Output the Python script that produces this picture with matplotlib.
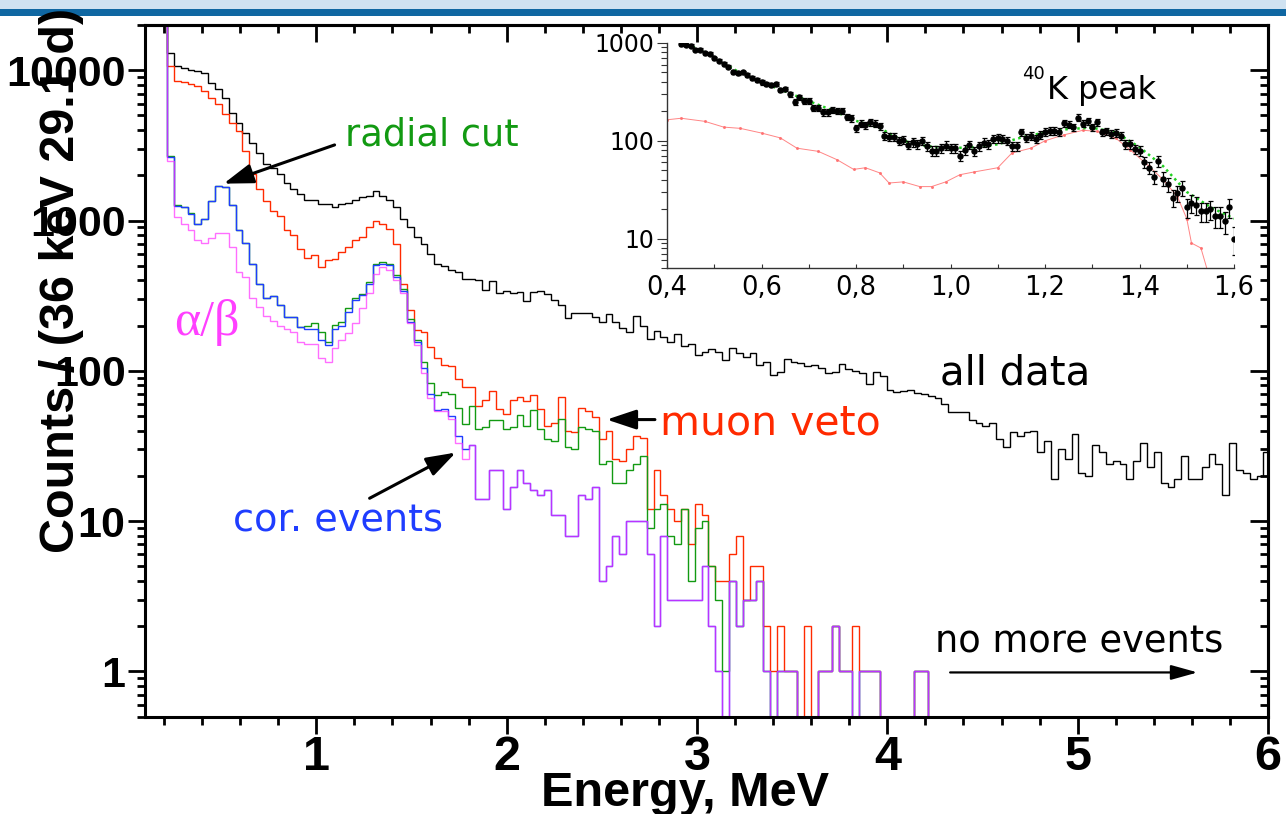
import numpy as np
import matplotlib
matplotlib.use("Agg")
import matplotlib.pyplot as plt
from matplotlib.patches import Rectangle
from matplotlib.ticker import (FixedLocator, MultipleLocator, LogLocator,
                               FuncFormatter, NullFormatter)

plt.rcParams['font.family'] = ['Liberation Sans', 'DejaVu Sans']
plt.rcParams['font.weight'] = 'bold'

W, H, DPI = 1286, 814, 100

# ---- spectra: 36 keV bins starting at 0.18 MeV ----
BIN_START = 0.18
BIN_WIDTH = 0.036

all_data = [
    40000, 13000, 10700, 10400, 10100, 9850, 9560, 8240, 7560, 6560,
    5210, 4480, 3850, 3300, 2830, 2370, 2230, 2040, 1790, 1620,
    1500, 1360, 1360, 1280, 1280, 1225, 1290, 1300, 1360, 1430,
    1465, 1565, 1465, 1380, 1225, 1026, 903, 776, 700, 600,
    511, 496, 467, 455, 411, 411, 401, 344, 396, 330,
    341, 330, 335, 292, 335, 339, 327, 295, 273, 225,
    241, 241, 243, 229, 210, 238, 210, 194, 180, 232,
    200, 163, 185, 169, 155, 176, 146, 152, 128, 134,
    139, 133, 118, 141, 131, 124, 132, 110, 114, 94,
    99, 119, 114, 112, 107, 110, 104, 97, 98, 111,
    103, 100, 97, 82, 99, 92, 75, 72, 73, 75,
    71, 70, 68, 66, 60, 53, 53, 53, 47, 45,
    43, 45, 35, 31, 39, 37, 39, 40, 29, 34,
    19, 30, 26, 38, 21, 20, 32, 29, 24, 25,
    24, 19, 25, 33, 23, 29, 18, 17, 19, 27,
    19, 19, 23, 28, 24, 15, 33, 22, 21, 19,
    20, 29,
]

muon_veto = [
    40000, 10630, 8450, 8370, 8110, 7830, 7330, 6560, 5930, 5090,
    4480, 3940, 2910, 2040, 1620, 1357, 1164, 1078, 859, 796,
    649, 566, 587, 491, 543, 557, 617, 666, 744, 783,
    903, 1000, 942, 881, 700, 380, 253, 187, 180, 145,
    121, 110, 107, 88, 78, 78, 58, 64, 74, 56,
    52, 64, 67, 63, 69, 56, 43, 45, 67, 40,
    39, 57, 54, 49, 35, 40, 26, 25, 30, 37,
    36, 12, 22, 15, 12, 10, 12, 7, 13, 11,
    5, 4, 4, 6, 8, 3, 5, 5, 2, 1,
    2, 1, 1, 0, 2, 0, 1, 1, 2, 1,
    1, 2, 1, 1, 1, 0, 0, 0, 0, 0,
    1, 1, 0,
]

radial_cut = [
    40000, 2694, 1276, 1225, 1119, 951, 1026, 1357, 1706, 1663,
    1276, 859, 708, 517, 381, 303, 314, 273, 229, 227,
    197, 200, 207, 182, 155, 202, 212, 260, 303, 327,
    391, 517, 530, 515, 432, 350, 220, 160, 115, 83,
    69, 72, 70, 57, 44, 58, 41, 42, 47, 47,
    41, 42, 51, 43, 55, 41, 35, 34, 48, 31,
    30, 42, 41, 40, 24, 25, 18, 18, 22, 24,
    27, 9, 12, 13, 8, 7, 12, 4, 9, 10,
    5, 3, 1, 4, 2, 3, 3, 4, 1, 0,
    1, 1, 1, 0, 0, 0, 1, 1, 2, 1,
    1, 0, 1, 1, 1, 0, 0, 0, 0, 0,
    1, 1, 0,
]

cor_events = [
    40000, 2650, 1257, 1225, 1108, 951, 1026, 1357, 1706, 1663,
    1276, 859, 708, 517, 381, 303, 314, 273, 229, 227,
    197, 189, 190, 160, 149, 190, 200, 247, 298, 320,
    381, 505, 517, 505, 421, 340, 212, 155, 104, 70,
    55, 56, 50, 37, 30, 32, 14, 14, 22, 22,
    12, 17, 22, 18, 16, 15, 16, 11, 11, 8,
    8, 15, 14, 17, 4, 5, 8, 6, 10, 10,
    10, 6, 2, 8, 3, 3, 3, 3, 3, 5,
    2, 1, 0, 4, 2, 3, 3, 4, 1, 0,
    1, 1, 1, 0, 0, 0, 1, 1, 2, 1,
    1, 0, 1, 1, 1, 0, 0, 0, 0, 0,
    1, 1, 0,
]

alpha_beta = [
    40000, 2496, 1052, 942, 859, 744, 711, 768, 824, 824,
    666, 455, 421, 303, 267, 231, 215, 199, 189, 182,
    156, 152, 152, 121, 115, 141, 160, 178, 207, 260,
    330, 443, 491, 467, 404, 330, 209, 149, 97, 66,
    54, 54, 48, 33, 26, 32, 14, 14, 22, 22,
    12, 17, 22, 18, 16, 15, 16, 11, 11, 8,
    8, 15, 14, 17, 4, 5, 8, 6, 10, 10,
    10, 6, 2, 8, 3, 3, 3, 3, 3, 5,
    2, 1, 0, 4, 2, 3, 3, 4, 1, 0,
    1, 1, 1, 0, 0, 0, 1, 1, 2, 1,
    1, 0, 1, 1, 1, 0, 0, 0, 0, 0,
    1, 1, 0,
]

x_major = [1, 2, 3, 4, 5, 6]

# ---- 40K peak region (inset), 10 keV points from 0.43 to 1.60 MeV ----
k40_counts = [
    970, 955, 940, 855, 850, 785, 775,
    700, 660, 610, 575, 510, 490, 500, 470, 435, 420,
    395, 380, 370, 380, 330, 340, 300, 250, 280, 255,
    255, 215, 218, 195, 195, 205, 200, 200, 175, 170,
    135, 150, 145, 155, 150, 140, 112, 110, 110, 100,
    102, 91, 97, 93, 100, 88, 79, 79, 84, 89,
    84, 84, 70, 81, 91, 78, 88, 96, 93, 104,
    106, 104, 100, 88, 88, 122, 108, 112, 105, 115,
    124, 126, 126, 124, 152, 146, 138, 173, 150, 158,
    138, 155, 122, 125, 118, 120, 112, 92, 92, 82,
    79, 60, 53, 43, 62, 41, 36, 26, 29, 33,
    21, 23, 22, 19, 19, 20, 17, 17, 15, 21,
    10,
]
k40_e_first, k40_e_last = 0.43, 1.60

total_fit_e = [0.43, 0.45, 0.50, 0.55, 0.60, 0.65, 0.70, 0.75, 0.80, 0.85,
               0.90, 0.95, 1.00, 1.05, 1.10, 1.15, 1.20, 1.25, 1.30, 1.35,
               1.40, 1.45, 1.50, 1.55, 1.60]
total_fit = [1000, 940, 720, 510, 400, 320, 255, 205, 160, 135,
             100, 88, 84, 86, 92, 108, 122, 132, 136, 122,
             86, 55, 30, 21, 16]

k40_model_e = [0.40, 0.43, 0.48, 0.52, 0.555, 0.60, 0.64, 0.675, 0.72, 0.76,
               0.795, 0.82, 0.85, 0.87, 0.90, 0.935, 0.96, 0.99, 1.02, 1.05,
               1.10, 1.13, 1.17, 1.20, 1.24, 1.28, 1.31, 1.35, 1.38, 1.42,
               1.45, 1.48, 1.50, 1.51, 1.53, 1.545]
k40_model = [164, 170, 158, 138, 134, 120, 107, 84, 78, 64,
             51, 53, 47, 37, 38, 34, 34, 38, 45, 48,
             53, 75, 84, 100, 115, 128, 125, 106, 81, 55,
             40, 27, 16, 9, 8, 4.5]


def edges_for(vals):
    return BIN_START + BIN_WIDTH * np.arange(len(vals) + 1)


def drawable(vals):
    v = np.asarray(vals, dtype=float)
    return np.where(v > 0, v, 1e-3)


fig = plt.figure(figsize=(W / DPI, H / DPI), dpi=DPI)

# slide header band
fig.add_artist(Rectangle((0, 1 - 9 / H), 1, 9 / H, transform=fig.transFigure,
                         facecolor='#cfe2f1', edgecolor='none', zorder=0))
fig.add_artist(Rectangle((0, 1 - 16 / H), 1, 7 / H, transform=fig.transFigure,
                         facecolor='#0f67a2', edgecolor='none', zorder=0))

ax = fig.add_axes([145 / W, 1 - 716.7 / H, (1268 - 145) / W, (716.7 - 25) / H])
ax.set_yscale('log')

series = [
    (all_data, '#000000', 1.0),
    (muon_veto, '#ff2a00', 1.0),
    (radial_cut, '#129a12', 1.0),
    (cor_events, '#1f3dff', 1.0),
    (alpha_beta, '#ff30ff', 0.7),
]
for vals, col, alp in series:
    ax.stairs(drawable(vals), edges_for(vals), baseline=None,
              color=col, lw=1.0, alpha=alp)

ax.set_xlim(0.1, 6.0)
ax.set_ylim(0.5, 2.0e4)

ax.xaxis.set_major_locator(FixedLocator(x_major))
ax.xaxis.set_minor_locator(MultipleLocator(0.2))
ax.xaxis.set_major_formatter(FuncFormatter(lambda v, p: f'{v:.0f}'))
ax.yaxis.set_major_locator(LogLocator(base=10, numticks=10))
ax.yaxis.set_minor_locator(LogLocator(base=10, subs=np.arange(2, 10), numticks=60))
ax.yaxis.set_major_formatter(FuncFormatter(lambda v, p: f'{v:.0f}'))
ax.yaxis.set_minor_formatter(NullFormatter())
ax.tick_params(which='major', direction='out', length=12, width=2,
               pad=1, top=False, right=False)
ax.tick_params(which='minor', direction='out', length=6, width=2,
               top=False, right=False)
ax.tick_params(axis='x', labelsize=35)
ax.tick_params(axis='y', labelsize=31, pad=2)
for sp in ax.spines.values():
    sp.set_linewidth(2.2)

top = ax.secondary_xaxis('top')
top.xaxis.set_major_locator(FixedLocator(x_major))
top.xaxis.set_minor_locator(MultipleLocator(0.2))
top.tick_params(which='major', direction='in', length=12, width=2, labeltop=False)
top.tick_params(which='minor', direction='in', length=6, width=2)
top.spines['top'].set_linewidth(2.2)

right = ax.secondary_yaxis('right')
right.yaxis.set_major_locator(LogLocator(base=10, numticks=10))
right.yaxis.set_minor_locator(LogLocator(base=10, subs=np.arange(2, 10), numticks=60))
right.yaxis.set_minor_formatter(NullFormatter())
right.tick_params(which='major', direction='in', length=13, width=2, labelright=False)
right.tick_params(which='minor', direction='in', length=6, width=2)
right.spines['right'].set_linewidth(2.2)

fig.text(62 / W, 1 - 280 / H, 'Counts / (36 keV 29.1 d)', rotation=90,
         ha='center', va='center', fontsize=35, fontweight='bold')
fig.text(685 / W, 1 - 806 / H, 'Energy, MeV', ha='center', va='baseline',
         fontsize=35, fontweight='bold')

note = dict(family='DejaVu Sans', fontweight='normal')
arrow_kw = dict(arrowstyle='-|>,head_length=0.9,head_width=0.3',
                color='black', lw=2.2, mutation_scale=20, shrinkA=0, shrinkB=0)

ax.text(1.15, 3700, 'radial cut', color='#129a12', fontsize=26.5,
        va='center', ha='left', **note)
ax.annotate('', xy=(0.513, 1760), xytext=(1.096, 3185), arrowprops=arrow_kw)

ax.text(0.255, 211, 'α/β', color='#ff40ff', fontsize=36, va='center',
        ha='left', family='Liberation Serif', fontweight='normal')

ax.text(2.805, 44.6, 'muon veto', color='#ff2a00', fontsize=29.5,
        va='center', ha='left', **note)
ax.annotate('', xy=(2.526, 47.4), xytext=(2.779, 47.4), arrowprops=arrow_kw)

ax.text(0.56, 10.0, 'cor. events', color='#1f3dff', fontsize=27.5,
        va='center', ha='left', **note)
ax.annotate('', xy=(1.733, 28.6), xytext=(1.28, 14.2), arrowprops=arrow_kw)

ax.text(4.277, 95.5, 'all data', color='black', fontsize=29,
        va='center', ha='left', **note)

ax.text(4.25, 1.56, 'no more events', color='black', fontsize=26.5,
        va='center', ha='left', **note)
ax.annotate('', xy=(5.63, 0.985), xytext=(4.33, 0.985),
            arrowprops=dict(arrowstyle='-|>,head_length=0.9,head_width=0.25',
                            color='black', lw=1.6, mutation_scale=18,
                            shrinkA=0, shrinkB=0))

# ---- inset: 40K peak ----
ins = fig.add_axes([667 / W, 1 - 268 / H, 567 / W, 225 / H], facecolor='none')
ins.set_yscale('log')
k40_e = np.linspace(k40_e_first, k40_e_last, len(k40_counts))
counts = np.asarray(k40_counts, dtype=float)
ins.plot(k40_model_e, k40_model, color='#ff7070', lw=0.7, marker='o', ms=1.2,
         alpha=0.85)
ins.plot(total_fit_e, total_fit, color='#22d022', lw=1.8, ls=(0, (1, 1.4)))
ins.errorbar(k40_e, counts, yerr=np.sqrt(counts), fmt='o', ms=3.6,
             color='black', ecolor='black', elinewidth=0.9, capsize=1.8,
             capthick=0.9)
ins.set_xlim(0.4, 1.6)
ins.set_ylim(5, 1000)
for side in ('top', 'right'):
    ins.spines[side].set_visible(False)
for side in ('left', 'bottom'):
    ins.spines[side].set_linewidth(1.0)
    ins.spines[side].set_color('#333333')
ins.xaxis.set_major_locator(MultipleLocator(0.2))
ins.xaxis.set_minor_locator(MultipleLocator(0.1))
ins.xaxis.set_major_formatter(FuncFormatter(lambda v, p: f'{v:.1f}'.replace('.', ',')))
ins.yaxis.set_major_locator(LogLocator(base=10, numticks=10))
ins.yaxis.set_minor_locator(LogLocator(base=10, subs=np.arange(2, 10), numticks=60))
ins.yaxis.set_major_formatter(FuncFormatter(lambda v, p: f'{v:.0f}'))
ins.yaxis.set_minor_formatter(NullFormatter())
ins.tick_params(axis='x', which='both', direction='in', length=3, width=0.8,
                color='#333333')
ins.tick_params(axis='x', which='major', labelsize=18.5, pad=5)
ins.tick_params(axis='y', which='major', direction='out', length=7, width=0.8,
                labelsize=17, pad=2, color='#333333')
ins.tick_params(axis='y', which='minor', direction='out', length=4, width=0.8,
                color='#333333')
for lab in ins.get_xticklabels() + ins.get_yticklabels():
    lab.set_fontweight('normal')
    lab.set_family('DejaVu Sans')
ins.text(1.20, 390, '40', fontsize=13, va='bottom', ha='right', **note)
ins.text(1.205, 330, 'K peak', fontsize=23, va='center', ha='left', **note)

fig.savefig('out.png', dpi=DPI)
